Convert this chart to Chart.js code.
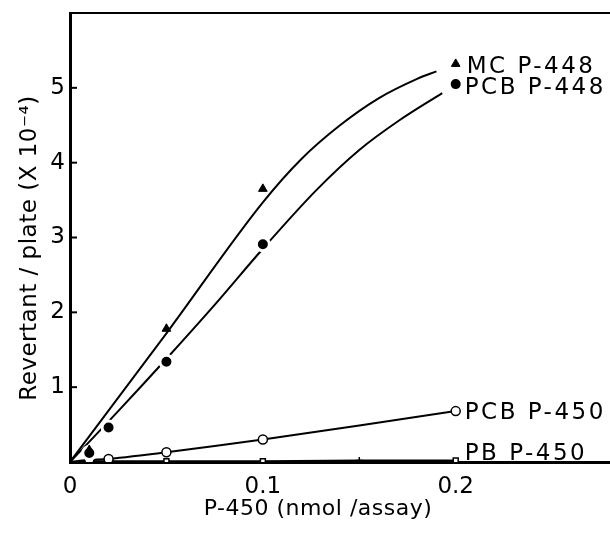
<!DOCTYPE html>
<html>
<head>
<meta charset="utf-8">
<script src="https://cdn.jsdelivr.net/npm/chart.js@4.4.0/dist/chart.umd.min.js"></script>
<style>
  body { margin: 0; background: #fff; }
  #wrap { width: 610px; height: 533px; }
</style>
</head>
<body>
<div id="wrap"><canvas id="myChart" width="610" height="533"></canvas></div>
<script>
// values (x in nmol/assay, y in revertants/plate x 10^-4)
const seriesNames = ['MC P-448', 'PCB P-448', 'PCB P-450', 'PB P-450'];
const mcX = [0.01, 0.05, 0.1, 0.2];
const mcY = [0.16, 1.78, 3.65, 5.32];
const pcb448X = [0.01, 0.02, 0.05, 0.1, 0.2];
const pcb448Y = [0.12, 0.46, 1.34, 2.91, 5.05];
const pcb450X = [0, 0.01, 0.02, 0.05, 0.1, 0.2];
const pcb450Y = [0, 0.03, 0.04, 0.13, 0.3, 0.68];
const pb450X = [0, 0.01, 0.05, 0.1, 0.15, 0.2];
const pb450Y = [0, 0.01, 0.01, 0.01, 0.02, 0.02];
// hand-drawn curves through the two P-448 series
const mcCurveX = [0, 0.05, 0.1, 0.12, 0.14, 0.16, 0.18, 0.19];
const mcCurveY = [0, 1.72, 3.47, 4.05, 4.5, 4.86, 5.12, 5.22];
const pcb448CurveX = [0, 0.025, 0.05, 0.075, 0.1, 0.128, 0.15, 0.171, 0.193];
const pcb448CurveY = [0, 0.68, 1.38, 2.1, 2.85, 3.64, 4.17, 4.57, 4.93];
const xTicks = [0, 0.1, 0.2];
const yTicks = [1, 2, 3, 4, 5];
const xTitle = 'P-450 (nmol /assay)';
const yTitle = 'Revertant / plate (X 10\u207B\u2074)';

const FONT = 'DejaVu Sans';
// where each series name sits relative to its last point (px)
const labelOffsets = [[11, 3], [9, 4], [9, 2], [9, -6]];

function toPoints(xs, ys) {
    return xs.map((x, i) => ({ x: x, y: ys[i] }));
}

// origin point has no marker
function radii(xs, r) {
    return xs.map(x => x === 0 ? 0 : r);
}

const textPlugin = {
    id: 'textPlugin',
    afterDraw(chart) {
        const ctx = chart.ctx;
        const xs = chart.scales.x;
        const ys = chart.scales.y;
        const area = chart.chartArea;
        ctx.save();
        // top frame
        ctx.strokeStyle = '#000';
        ctx.lineWidth = 2;
        ctx.beginPath();
        ctx.moveTo(area.left, area.top);
        ctx.lineTo(area.right, area.top);
        ctx.stroke();
        // inward y ticks
        yTicks.forEach(v => {
            const py = ys.getPixelForValue(v);
            ctx.beginPath();
            ctx.moveTo(area.left, py);
            ctx.lineTo(area.left + 7, py);
            ctx.stroke();
        });
        // series names next to the last marker of each series
        ctx.fillStyle = '#000';
        ctx.font = '23px "' + FONT + '"';
        ctx.letterSpacing = '2.5px';
        ctx.textBaseline = 'middle';
        ctx.textAlign = 'left';
        chart.data.datasets.forEach(ds => {
            if (ds.nameIndex === undefined) return;
            const last = ds.data[ds.data.length - 1];
            const off = labelOffsets[ds.nameIndex];
            ctx.fillText(seriesNames[ds.nameIndex],
                xs.getPixelForValue(last.x) + off[0],
                ys.getPixelForValue(last.y) + off[1]);
        });
        // axis titles
        ctx.font = '22px "' + FONT + '"';
        ctx.letterSpacing = '0.5px';
        ctx.textAlign = 'center';
        ctx.fillText(xTitle, 318, 509);
        ctx.translate(30, 248);
        ctx.rotate(-Math.PI / 2);
        ctx.font = '23px "' + FONT + '"';
        ctx.fillText(yTitle, 0, 0);
        ctx.restore();
    }
};

function curve(xs, ys) {
    return {
        data: toPoints(xs, ys),
        borderColor: '#000',
        borderWidth: 2,
        pointRadius: 0,
        cubicInterpolationMode: 'monotone',
        order: 2
    };
}

function buildChart() {
    const ctx = document.getElementById('myChart');
    new Chart(ctx, {
        type: 'line',
        data: {
            datasets: [
                curve(mcCurveX, mcCurveY),
                curve(pcb448CurveX, pcb448CurveY),
                {
                    nameIndex: 0,
                    data: toPoints(mcX, mcY),
                    showLine: false,
                    pointStyle: 'triangle',
                    pointRadius: 5,
                    pointBackgroundColor: '#000',
                    pointBorderColor: '#000',
                    pointBorderWidth: 1,
                    order: 1
                }, {
                    nameIndex: 1,
                    data: toPoints(pcb448X, pcb448Y),
                    showLine: false,
                    pointStyle: 'circle',
                    pointRadius: 6.5,
                    pointBackgroundColor: '#000',
                    pointBorderColor: '#fff',
                    pointBorderWidth: 3,
                    order: 1
                }, {
                    nameIndex: 2,
                    data: toPoints(pcb450X, pcb450Y),
                    borderColor: '#000',
                    borderWidth: 2,
                    pointStyle: 'circle',
                    pointRadius: radii(pcb450X, 4.5),
                    pointBackgroundColor: '#fff',
                    pointBorderColor: '#000',
                    pointBorderWidth: 1.5,
                    tension: 0.2,
                    order: 1
                }, {
                    nameIndex: 3,
                    data: toPoints(pb450X, pb450Y),
                    borderColor: '#000',
                    borderWidth: 2,
                    pointStyle: pb450X.map(x => x === 0.15 ? 'cross' : 'rect'),
                    pointRadius: radii(pb450X, 3.5),
                    pointBackgroundColor: '#fff',
                    pointBorderColor: '#000',
                    pointBorderWidth: 1.5,
                    order: 1
                }
            ]
        },
        options: {
            responsive: false,
            animation: false,
            layout: { autoPadding: false, padding: { top: 13, right: 0, left: 0, bottom: 0 } },
            plugins: {
                legend: { display: false },
                tooltip: { enabled: false }
            },
            scales: {
                x: {
                    type: 'linear',
                    min: 0,
                    max: 0.28,
                    afterBuildTicks: s => { s.ticks = xTicks.map(v => ({ value: v })); },
                    afterFit: s => { s.height = 71; s.paddingLeft = 0; s.paddingRight = 0; },
                    ticks: {
                        color: '#000',
                        font: { family: FONT, size: 23 },
                        padding: 11,
                        maxRotation: 0,
                        autoSkip: false,
                        callback: v => String(v)
                    },
                    grid: { display: false, drawTicks: false },
                    border: { display: true, color: '#000', width: 3 }
                },
                y: {
                    min: 0,
                    max: 6,
                    afterBuildTicks: s => { s.ticks = yTicks.map(v => ({ value: v })); },
                    afterFit: s => { s.width = 70; s.paddingTop = 0; s.paddingBottom = 0; },
                    ticks: {
                        color: '#000',
                        font: { family: FONT, size: 23 },
                        padding: 5,
                        autoSkip: false,
                        callback: v => String(v)
                    },
                    grid: { display: false, drawTicks: false },
                    border: { display: true, color: '#000', width: 3 }
                }
            }
        },
        plugins: [textPlugin]
    });
}

buildChart();
</script>
</body>
</html>
